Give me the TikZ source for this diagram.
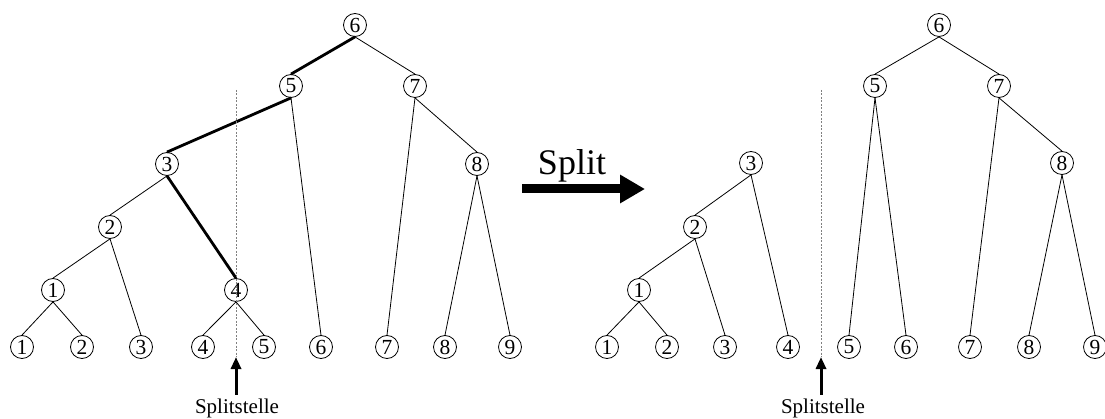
\documentclass[tikz,border=0pt]{standalone}
\usepackage{fontspec}
\setmainfont{Liberation Serif}
\usetikzlibrary{arrows.meta}
\begin{document}
\begin{tikzpicture}[x=1pt,y=-1pt,
  knot/.style={circle,draw,line width=0.8pt,minimum size=23pt,inner sep=0pt,
    font=\fontsize{21.5}{21.5}\selectfont},
  edge/.style={line width=0.8pt},
  heavy/.style={line width=2.8pt},
  cutline/.style={gray,line width=0.7pt,dash pattern=on 2pt off 1.5pt},
  markarrow/.style={line width=3pt,-{Triangle[length=12pt,width=10pt]}},
  caption/.style={font=\fontsize{21}{21}\selectfont}]
\useasboundingbox (0,0) rectangle (1105,419);

% ---------- tree before the split ----------
\node[knot] (a6) at (355,25) {6};
\node[knot] (a5) at (291,86) {5};
\node[knot] (a7) at (415,86) {7};
\node[knot] (a3) at (167,164) {3};
\node[knot] (a8) at (477,164) {8};
\node[knot] (a2) at (110,227) {2};
\node[knot] (a1) at (53,290) {1};
\node[knot] (a4) at (236,290) {4};
\node[knot] (l1) at (22,347) {1};
\node[knot] (l2) at (82,347) {2};
\node[knot] (l3) at (141,347) {3};
\node[knot] (l4) at (203,347) {4};
\node[knot] (l5) at (264,347) {5};
\node[knot] (l6) at (321,347) {6};
\node[knot] (l7) at (387,347) {7};
\node[knot] (l8) at (445,347) {8};
\node[knot] (l9) at (510,347) {9};

\draw[heavy] (a6.south) -- (a5.north);
\draw[heavy] (a5.south) -- (a3.north);
\draw[heavy] (a3.south) -- (a4.north);
\draw[edge] (a6.south) -- (a7.north);
\draw[edge] (a5.south) -- (l6.north);
\draw[edge] (a7.south) -- (l7.north);
\draw[edge] (a7.south) -- (a8.north);
\draw[edge] (a8.south) -- (l8.north);
\draw[edge] (a8.south) -- (l9.north);
\draw[edge] (a3.south) -- (a2.north);
\draw[edge] (a2.south) -- (a1.north);
\draw[edge] (a2.south) -- (l3.north);
\draw[edge] (a1.south) -- (l1.north);
\draw[edge] (a1.south) -- (l2.north);
\draw[edge] (a4.south) -- (l4.north);
\draw[edge] (a4.south) -- (l5.north);

\coordinate (cutAtop) at (236,90);
\coordinate (cutAbot) at (236,357);
\draw[cutline] (cutAtop) -- (cutAbot);
\node[caption] (capA) at (237,408) {Splitstelle};
\draw[markarrow] (capA.north -| cutAbot) -- (cutAbot);

% ---------- split arrow ----------
\coordinate (sa) at (522,189);
\coordinate (sb) at (645,189);
\draw[line width=9pt,-{Triangle[length=25pt,width=27pt]}] (sa) -- (sb);
\node[font=\fontsize{36}{36}\selectfont,anchor=base] (split) at (572,175) {Split};

% ---------- trees after the split ----------
\node[knot] (b6) at (939,25) {6};
\node[knot] (b5) at (875,86) {5};
\node[knot] (b7) at (999,86) {7};
\node[knot] (b3) at (751,163) {3};
\node[knot] (b8) at (1062,163) {8};
\node[knot] (b2) at (695,227) {2};
\node[knot] (b1) at (639,290) {1};
\node[knot] (m1) at (607,347) {1};
\node[knot] (m2) at (667,347) {2};
\node[knot] (m3) at (725,347) {3};
\node[knot] (m4) at (788,347) {4};
\node[knot] (m5) at (849,347) {5};
\node[knot] (m6) at (906,347) {6};
\node[knot] (m7) at (970,347) {7};
\node[knot] (m8) at (1029,347) {8};
\node[knot] (m9) at (1095,347) {9};

\draw[edge] (b6.south) -- (b5.north);
\draw[edge] (b6.south) -- (b7.north);
\draw[edge] (b5.south) -- (m5.north);
\draw[edge] (b5.south) -- (m6.north);
\draw[edge] (b7.south) -- (m7.north);
\draw[edge] (b7.south) -- (b8.north);
\draw[edge] (b8.south) -- (m8.north);
\draw[edge] (b8.south) -- (m9.north);
\draw[edge] (b3.south) -- (b2.north);
\draw[edge] (b3.south) -- (m4.north);
\draw[edge] (b2.south) -- (b1.north);
\draw[edge] (b2.south) -- (m3.north);
\draw[edge] (b1.south) -- (m1.north);
\draw[edge] (b1.south) -- (m2.north);

\coordinate (cutBtop) at (821,90);
\coordinate (cutBbot) at (821,357);
\draw[cutline] (cutBtop) -- (cutBbot);
\node[caption] (capB) at (823,408) {Splitstelle};
\draw[markarrow] (capB.north -| cutBbot) -- (cutBbot);
\end{tikzpicture}
\end{document}
